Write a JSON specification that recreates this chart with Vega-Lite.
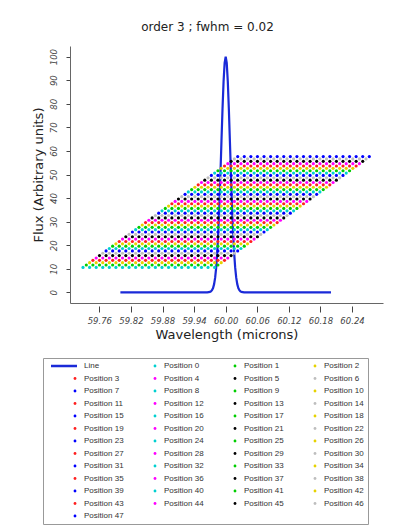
{
"$schema":"https://vega.github.io/schema/vega-lite/v6.json",
"width":313,"height":257,
"autosize":{"type":"none"},
"padding":{"left":70,"top":46,"right":22,"bottom":226},
"background":"white",
"title":{"text":"order 3 ; fwhm =  0.02","font":"DejaVu Sans","fontSize":12,"fontWeight":"normal","color":"#222","dx":-19,"offset":12},
"config":{"view":{"stroke":null},"axis":{"grid":false,"labelOverlap":false,"labelSeparation":0}},
"datasets":{
"line":[{"s":-1,"w":59.8,"f":0},{"s":-1,"w":59.96,"f":0},{"s":-1,"w":59.965,"f":0.02},{"s":-1,"w":59.97,"f":0.2},{"s":-1,"w":59.972,"f":0.44},{"s":-1,"w":59.974,"f":0.92},{"s":-1,"w":59.976,"f":1.85},{"s":-1,"w":59.978,"f":3.49},{"s":-1,"w":59.98,"f":6.25},{"s":-1,"w":59.982,"f":10.6},{"s":-1,"w":59.984,"f":17},{"s":-1,"w":59.986,"f":25.7},{"s":-1,"w":59.988,"f":36.9},{"s":-1,"w":59.99,"f":50},{"s":-1,"w":59.992,"f":64.2},{"s":-1,"w":59.994,"f":77.9},{"s":-1,"w":59.996,"f":89.5},{"s":-1,"w":59.998,"f":97.3},{"s":-1,"w":60,"f":100},{"s":-1,"w":60.002,"f":97.3},{"s":-1,"w":60.004,"f":89.5},{"s":-1,"w":60.006,"f":77.9},{"s":-1,"w":60.008,"f":64.2},{"s":-1,"w":60.01,"f":50},{"s":-1,"w":60.012,"f":36.9},{"s":-1,"w":60.014,"f":25.7},{"s":-1,"w":60.016,"f":17},{"s":-1,"w":60.018,"f":10.6},{"s":-1,"w":60.02,"f":6.25},{"s":-1,"w":60.022,"f":3.49},{"s":-1,"w":60.024,"f":1.85},{"s":-1,"w":60.026,"f":0.92},{"s":-1,"w":60.028,"f":0.44},{"s":-1,"w":60.03,"f":0.2},{"s":-1,"w":60.035,"f":0.02},{"s":-1,"w":60.04,"f":0},{"s":-1,"w":60.2,"f":0}],
"pts":[
{"s":0,"w":59.729,"f":10.6},{"s":0,"w":59.7415,"f":10.6},{"s":0,"w":59.754,"f":10.6},{"s":0,"w":59.7665,"f":10.6},{"s":0,"w":59.779,"f":10.6},{"s":0,"w":59.7915,"f":10.6},{"s":0,"w":59.804,"f":10.6},{"s":0,"w":59.8165,"f":10.6},{"s":0,"w":59.829,"f":10.6},{"s":0,"w":59.8415,"f":10.6},{"s":0,"w":59.854,"f":10.6},{"s":0,"w":59.8665,"f":10.6},{"s":0,"w":59.879,"f":10.6},{"s":0,"w":59.8915,"f":10.6},{"s":0,"w":59.904,"f":10.6},{"s":0,"w":59.9165,"f":10.6},{"s":0,"w":59.929,"f":10.6},{"s":0,"w":59.9415,"f":10.6},{"s":0,"w":59.954,"f":10.6},{"s":0,"w":59.9665,"f":10.6},{"s":0,"w":59.979,"f":10.6},
{"s":1,"w":59.7353,"f":11.6},{"s":1,"w":59.7478,"f":11.6},{"s":1,"w":59.7603,"f":11.6},{"s":1,"w":59.7728,"f":11.6},{"s":1,"w":59.7853,"f":11.6},{"s":1,"w":59.7978,"f":11.6},{"s":1,"w":59.8103,"f":11.6},{"s":1,"w":59.8228,"f":11.6},{"s":1,"w":59.8353,"f":11.6},{"s":1,"w":59.8478,"f":11.6},{"s":1,"w":59.8603,"f":11.6},{"s":1,"w":59.8728,"f":11.6},{"s":1,"w":59.8853,"f":11.6},{"s":1,"w":59.8978,"f":11.6},{"s":1,"w":59.9103,"f":11.6},{"s":1,"w":59.9228,"f":11.6},{"s":1,"w":59.9353,"f":11.6},{"s":1,"w":59.9478,"f":11.6},{"s":1,"w":59.9603,"f":11.6},{"s":1,"w":59.9728,"f":11.6},{"s":1,"w":59.9853,"f":11.6},
{"s":2,"w":59.7415,"f":12.6},{"s":2,"w":59.754,"f":12.6},{"s":2,"w":59.7665,"f":12.6},{"s":2,"w":59.779,"f":12.6},{"s":2,"w":59.7915,"f":12.6},{"s":2,"w":59.804,"f":12.6},{"s":2,"w":59.8165,"f":12.6},{"s":2,"w":59.829,"f":12.6},{"s":2,"w":59.8415,"f":12.6},{"s":2,"w":59.854,"f":12.6},{"s":2,"w":59.8665,"f":12.6},{"s":2,"w":59.879,"f":12.6},{"s":2,"w":59.8915,"f":12.6},{"s":2,"w":59.904,"f":12.6},{"s":2,"w":59.9165,"f":12.6},{"s":2,"w":59.929,"f":12.6},{"s":2,"w":59.9415,"f":12.6},{"s":2,"w":59.954,"f":12.6},{"s":2,"w":59.9665,"f":12.6},{"s":2,"w":59.979,"f":12.6},{"s":2,"w":59.9915,"f":12.6},
{"s":3,"w":59.7478,"f":13.6},{"s":3,"w":59.7603,"f":13.6},{"s":3,"w":59.7728,"f":13.6},{"s":3,"w":59.7853,"f":13.6},{"s":3,"w":59.7978,"f":13.6},{"s":3,"w":59.8103,"f":13.6},{"s":3,"w":59.8228,"f":13.6},{"s":3,"w":59.8353,"f":13.6},{"s":3,"w":59.8478,"f":13.6},{"s":3,"w":59.8603,"f":13.6},{"s":3,"w":59.8728,"f":13.6},{"s":3,"w":59.8853,"f":13.6},{"s":3,"w":59.8978,"f":13.6},{"s":3,"w":59.9103,"f":13.6},{"s":3,"w":59.9228,"f":13.6},{"s":3,"w":59.9353,"f":13.6},{"s":3,"w":59.9478,"f":13.6},{"s":3,"w":59.9603,"f":13.6},{"s":3,"w":59.9728,"f":13.6},{"s":3,"w":59.9853,"f":13.6},{"s":3,"w":59.9978,"f":13.6},
{"s":4,"w":59.754,"f":14.6},{"s":4,"w":59.7665,"f":14.6},{"s":4,"w":59.779,"f":14.6},{"s":4,"w":59.7915,"f":14.6},{"s":4,"w":59.804,"f":14.6},{"s":4,"w":59.8165,"f":14.6},{"s":4,"w":59.829,"f":14.6},{"s":4,"w":59.8415,"f":14.6},{"s":4,"w":59.854,"f":14.6},{"s":4,"w":59.8665,"f":14.6},{"s":4,"w":59.879,"f":14.6},{"s":4,"w":59.8915,"f":14.6},{"s":4,"w":59.904,"f":14.6},{"s":4,"w":59.9165,"f":14.6},{"s":4,"w":59.929,"f":14.6},{"s":4,"w":59.9415,"f":14.6},{"s":4,"w":59.954,"f":14.6},{"s":4,"w":59.9665,"f":14.6},{"s":4,"w":59.979,"f":14.6},{"s":4,"w":59.9915,"f":14.6},{"s":4,"w":60.004,"f":14.6},
{"s":5,"w":59.7603,"f":15.6},{"s":5,"w":59.7728,"f":15.6},{"s":5,"w":59.7853,"f":15.6},{"s":5,"w":59.7978,"f":15.6},{"s":5,"w":59.8103,"f":15.6},{"s":5,"w":59.8228,"f":15.6},{"s":5,"w":59.8353,"f":15.6},{"s":5,"w":59.8478,"f":15.6},{"s":5,"w":59.8603,"f":15.6},{"s":5,"w":59.8728,"f":15.6},{"s":5,"w":59.8853,"f":15.6},{"s":5,"w":59.8978,"f":15.6},{"s":5,"w":59.9103,"f":15.6},{"s":5,"w":59.9228,"f":15.6},{"s":5,"w":59.9353,"f":15.6},{"s":5,"w":59.9478,"f":15.6},{"s":5,"w":59.9603,"f":15.6},{"s":5,"w":59.9728,"f":15.6},{"s":5,"w":59.9853,"f":15.6},{"s":5,"w":59.9978,"f":15.6},{"s":5,"w":60.0103,"f":15.6},
{"s":6,"w":59.7665,"f":16.6},{"s":6,"w":59.779,"f":16.6},{"s":6,"w":59.7915,"f":16.6},{"s":6,"w":59.804,"f":16.6},{"s":6,"w":59.8165,"f":16.6},{"s":6,"w":59.829,"f":16.6},{"s":6,"w":59.8415,"f":16.6},{"s":6,"w":59.854,"f":16.6},{"s":6,"w":59.8665,"f":16.6},{"s":6,"w":59.879,"f":16.6},{"s":6,"w":59.8915,"f":16.6},{"s":6,"w":59.904,"f":16.6},{"s":6,"w":59.9165,"f":16.6},{"s":6,"w":59.929,"f":16.6},{"s":6,"w":59.9415,"f":16.6},{"s":6,"w":59.954,"f":16.6},{"s":6,"w":59.9665,"f":16.6},{"s":6,"w":59.979,"f":16.6},{"s":6,"w":59.9915,"f":16.6},{"s":6,"w":60.004,"f":16.6},{"s":6,"w":60.0165,"f":16.6},
{"s":7,"w":59.7728,"f":17.6},{"s":7,"w":59.7853,"f":17.6},{"s":7,"w":59.7978,"f":17.6},{"s":7,"w":59.8103,"f":17.6},{"s":7,"w":59.8228,"f":17.6},{"s":7,"w":59.8353,"f":17.6},{"s":7,"w":59.8478,"f":17.6},{"s":7,"w":59.8603,"f":17.6},{"s":7,"w":59.8728,"f":17.6},{"s":7,"w":59.8853,"f":17.6},{"s":7,"w":59.8978,"f":17.6},{"s":7,"w":59.9103,"f":17.6},{"s":7,"w":59.9228,"f":17.6},{"s":7,"w":59.9353,"f":17.6},{"s":7,"w":59.9478,"f":17.6},{"s":7,"w":59.9603,"f":17.6},{"s":7,"w":59.9728,"f":17.6},{"s":7,"w":59.9853,"f":17.6},{"s":7,"w":59.9978,"f":17.6},{"s":7,"w":60.0103,"f":17.6},{"s":7,"w":60.0228,"f":17.6},
{"s":8,"w":59.779,"f":18.6},{"s":8,"w":59.7915,"f":18.6},{"s":8,"w":59.804,"f":18.6},{"s":8,"w":59.8165,"f":18.6},{"s":8,"w":59.829,"f":18.6},{"s":8,"w":59.8415,"f":18.6},{"s":8,"w":59.854,"f":18.6},{"s":8,"w":59.8665,"f":18.6},{"s":8,"w":59.879,"f":18.6},{"s":8,"w":59.8915,"f":18.6},{"s":8,"w":59.904,"f":18.6},{"s":8,"w":59.9165,"f":18.6},{"s":8,"w":59.929,"f":18.6},{"s":8,"w":59.9415,"f":18.6},{"s":8,"w":59.954,"f":18.6},{"s":8,"w":59.9665,"f":18.6},{"s":8,"w":59.979,"f":18.6},{"s":8,"w":59.9915,"f":18.6},{"s":8,"w":60.004,"f":18.6},{"s":8,"w":60.0165,"f":18.6},{"s":8,"w":60.029,"f":18.6},
{"s":9,"w":59.7853,"f":19.6},{"s":9,"w":59.7978,"f":19.6},{"s":9,"w":59.8103,"f":19.6},{"s":9,"w":59.8228,"f":19.6},{"s":9,"w":59.8353,"f":19.6},{"s":9,"w":59.8478,"f":19.6},{"s":9,"w":59.8603,"f":19.6},{"s":9,"w":59.8728,"f":19.6},{"s":9,"w":59.8853,"f":19.6},{"s":9,"w":59.8978,"f":19.6},{"s":9,"w":59.9103,"f":19.6},{"s":9,"w":59.9228,"f":19.6},{"s":9,"w":59.9353,"f":19.6},{"s":9,"w":59.9478,"f":19.6},{"s":9,"w":59.9603,"f":19.6},{"s":9,"w":59.9728,"f":19.6},{"s":9,"w":59.9853,"f":19.6},{"s":9,"w":59.9978,"f":19.6},{"s":9,"w":60.0103,"f":19.6},{"s":9,"w":60.0228,"f":19.6},{"s":9,"w":60.0353,"f":19.6},
{"s":10,"w":59.7915,"f":20.6},{"s":10,"w":59.804,"f":20.6},{"s":10,"w":59.8165,"f":20.6},{"s":10,"w":59.829,"f":20.6},{"s":10,"w":59.8415,"f":20.6},{"s":10,"w":59.854,"f":20.6},{"s":10,"w":59.8665,"f":20.6},{"s":10,"w":59.879,"f":20.6},{"s":10,"w":59.8915,"f":20.6},{"s":10,"w":59.904,"f":20.6},{"s":10,"w":59.9165,"f":20.6},{"s":10,"w":59.929,"f":20.6},{"s":10,"w":59.9415,"f":20.6},{"s":10,"w":59.954,"f":20.6},{"s":10,"w":59.9665,"f":20.6},{"s":10,"w":59.979,"f":20.6},{"s":10,"w":59.9915,"f":20.6},{"s":10,"w":60.004,"f":20.6},{"s":10,"w":60.0165,"f":20.6},{"s":10,"w":60.029,"f":20.6},{"s":10,"w":60.0415,"f":20.6},
{"s":11,"w":59.7978,"f":21.6},{"s":11,"w":59.8103,"f":21.6},{"s":11,"w":59.8228,"f":21.6},{"s":11,"w":59.8353,"f":21.6},{"s":11,"w":59.8478,"f":21.6},{"s":11,"w":59.8603,"f":21.6},{"s":11,"w":59.8728,"f":21.6},{"s":11,"w":59.8853,"f":21.6},{"s":11,"w":59.8978,"f":21.6},{"s":11,"w":59.9103,"f":21.6},{"s":11,"w":59.9228,"f":21.6},{"s":11,"w":59.9353,"f":21.6},{"s":11,"w":59.9478,"f":21.6},{"s":11,"w":59.9603,"f":21.6},{"s":11,"w":59.9728,"f":21.6},{"s":11,"w":59.9853,"f":21.6},{"s":11,"w":59.9978,"f":21.6},{"s":11,"w":60.0103,"f":21.6},{"s":11,"w":60.0228,"f":21.6},{"s":11,"w":60.0353,"f":21.6},{"s":11,"w":60.0478,"f":21.6},
{"s":12,"w":59.804,"f":22.6},{"s":12,"w":59.8165,"f":22.6},{"s":12,"w":59.829,"f":22.6},{"s":12,"w":59.8415,"f":22.6},{"s":12,"w":59.854,"f":22.6},{"s":12,"w":59.8665,"f":22.6},{"s":12,"w":59.879,"f":22.6},{"s":12,"w":59.8915,"f":22.6},{"s":12,"w":59.904,"f":22.6},{"s":12,"w":59.9165,"f":22.6},{"s":12,"w":59.929,"f":22.6},{"s":12,"w":59.9415,"f":22.6},{"s":12,"w":59.954,"f":22.6},{"s":12,"w":59.9665,"f":22.6},{"s":12,"w":59.979,"f":22.6},{"s":12,"w":59.9915,"f":22.6},{"s":12,"w":60.004,"f":22.6},{"s":12,"w":60.0165,"f":22.6},{"s":12,"w":60.029,"f":22.6},{"s":12,"w":60.0415,"f":22.6},{"s":12,"w":60.054,"f":22.6},
{"s":13,"w":59.8103,"f":23.6},{"s":13,"w":59.8228,"f":23.6},{"s":13,"w":59.8353,"f":23.6},{"s":13,"w":59.8478,"f":23.6},{"s":13,"w":59.8603,"f":23.6},{"s":13,"w":59.8728,"f":23.6},{"s":13,"w":59.8853,"f":23.6},{"s":13,"w":59.8978,"f":23.6},{"s":13,"w":59.9103,"f":23.6},{"s":13,"w":59.9228,"f":23.6},{"s":13,"w":59.9353,"f":23.6},{"s":13,"w":59.9478,"f":23.6},{"s":13,"w":59.9603,"f":23.6},{"s":13,"w":59.9728,"f":23.6},{"s":13,"w":59.9853,"f":23.6},{"s":13,"w":59.9978,"f":23.6},{"s":13,"w":60.0103,"f":23.6},{"s":13,"w":60.0228,"f":23.6},{"s":13,"w":60.0353,"f":23.6},{"s":13,"w":60.0478,"f":23.6},{"s":13,"w":60.0603,"f":23.6},
{"s":14,"w":59.8165,"f":24.6},{"s":14,"w":59.829,"f":24.6},{"s":14,"w":59.8415,"f":24.6},{"s":14,"w":59.854,"f":24.6},{"s":14,"w":59.8665,"f":24.6},{"s":14,"w":59.879,"f":24.6},{"s":14,"w":59.8915,"f":24.6},{"s":14,"w":59.904,"f":24.6},{"s":14,"w":59.9165,"f":24.6},{"s":14,"w":59.929,"f":24.6},{"s":14,"w":59.9415,"f":24.6},{"s":14,"w":59.954,"f":24.6},{"s":14,"w":59.9665,"f":24.6},{"s":14,"w":59.979,"f":24.6},{"s":14,"w":59.9915,"f":24.6},{"s":14,"w":60.004,"f":24.6},{"s":14,"w":60.0165,"f":24.6},{"s":14,"w":60.029,"f":24.6},{"s":14,"w":60.0415,"f":24.6},{"s":14,"w":60.054,"f":24.6},{"s":14,"w":60.0665,"f":24.6},
{"s":15,"w":59.8228,"f":25.6},{"s":15,"w":59.8353,"f":25.6},{"s":15,"w":59.8478,"f":25.6},{"s":15,"w":59.8603,"f":25.6},{"s":15,"w":59.8728,"f":25.6},{"s":15,"w":59.8853,"f":25.6},{"s":15,"w":59.8978,"f":25.6},{"s":15,"w":59.9103,"f":25.6},{"s":15,"w":59.9228,"f":25.6},{"s":15,"w":59.9353,"f":25.6},{"s":15,"w":59.9478,"f":25.6},{"s":15,"w":59.9603,"f":25.6},{"s":15,"w":59.9728,"f":25.6},{"s":15,"w":59.9853,"f":25.6},{"s":15,"w":59.9978,"f":25.6},{"s":15,"w":60.0103,"f":25.6},{"s":15,"w":60.0228,"f":25.6},{"s":15,"w":60.0353,"f":25.6},{"s":15,"w":60.0478,"f":25.6},{"s":15,"w":60.0603,"f":25.6},{"s":15,"w":60.0728,"f":25.6},
{"s":16,"w":59.829,"f":26.6},{"s":16,"w":59.8415,"f":26.6},{"s":16,"w":59.854,"f":26.6},{"s":16,"w":59.8665,"f":26.6},{"s":16,"w":59.879,"f":26.6},{"s":16,"w":59.8915,"f":26.6},{"s":16,"w":59.904,"f":26.6},{"s":16,"w":59.9165,"f":26.6},{"s":16,"w":59.929,"f":26.6},{"s":16,"w":59.9415,"f":26.6},{"s":16,"w":59.954,"f":26.6},{"s":16,"w":59.9665,"f":26.6},{"s":16,"w":59.979,"f":26.6},{"s":16,"w":59.9915,"f":26.6},{"s":16,"w":60.004,"f":26.6},{"s":16,"w":60.0165,"f":26.6},{"s":16,"w":60.029,"f":26.6},{"s":16,"w":60.0415,"f":26.6},{"s":16,"w":60.054,"f":26.6},{"s":16,"w":60.0665,"f":26.6},{"s":16,"w":60.079,"f":26.6},
{"s":17,"w":59.8353,"f":27.6},{"s":17,"w":59.8478,"f":27.6},{"s":17,"w":59.8603,"f":27.6},{"s":17,"w":59.8728,"f":27.6},{"s":17,"w":59.8853,"f":27.6},{"s":17,"w":59.8978,"f":27.6},{"s":17,"w":59.9103,"f":27.6},{"s":17,"w":59.9228,"f":27.6},{"s":17,"w":59.9353,"f":27.6},{"s":17,"w":59.9478,"f":27.6},{"s":17,"w":59.9603,"f":27.6},{"s":17,"w":59.9728,"f":27.6},{"s":17,"w":59.9853,"f":27.6},{"s":17,"w":59.9978,"f":27.6},{"s":17,"w":60.0103,"f":27.6},{"s":17,"w":60.0228,"f":27.6},{"s":17,"w":60.0353,"f":27.6},{"s":17,"w":60.0478,"f":27.6},{"s":17,"w":60.0603,"f":27.6},{"s":17,"w":60.0728,"f":27.6},{"s":17,"w":60.0853,"f":27.6},
{"s":18,"w":59.8415,"f":28.6},{"s":18,"w":59.854,"f":28.6},{"s":18,"w":59.8665,"f":28.6},{"s":18,"w":59.879,"f":28.6},{"s":18,"w":59.8915,"f":28.6},{"s":18,"w":59.904,"f":28.6},{"s":18,"w":59.9165,"f":28.6},{"s":18,"w":59.929,"f":28.6},{"s":18,"w":59.9415,"f":28.6},{"s":18,"w":59.954,"f":28.6},{"s":18,"w":59.9665,"f":28.6},{"s":18,"w":59.979,"f":28.6},{"s":18,"w":59.9915,"f":28.6},{"s":18,"w":60.004,"f":28.6},{"s":18,"w":60.0165,"f":28.6},{"s":18,"w":60.029,"f":28.6},{"s":18,"w":60.0415,"f":28.6},{"s":18,"w":60.054,"f":28.6},{"s":18,"w":60.0665,"f":28.6},{"s":18,"w":60.079,"f":28.6},{"s":18,"w":60.0915,"f":28.6},
{"s":19,"w":59.8478,"f":29.6},{"s":19,"w":59.8603,"f":29.6},{"s":19,"w":59.8728,"f":29.6},{"s":19,"w":59.8853,"f":29.6},{"s":19,"w":59.8978,"f":29.6},{"s":19,"w":59.9103,"f":29.6},{"s":19,"w":59.9228,"f":29.6},{"s":19,"w":59.9353,"f":29.6},{"s":19,"w":59.9478,"f":29.6},{"s":19,"w":59.9603,"f":29.6},{"s":19,"w":59.9728,"f":29.6},{"s":19,"w":59.9853,"f":29.6},{"s":19,"w":59.9978,"f":29.6},{"s":19,"w":60.0103,"f":29.6},{"s":19,"w":60.0228,"f":29.6},{"s":19,"w":60.0353,"f":29.6},{"s":19,"w":60.0478,"f":29.6},{"s":19,"w":60.0603,"f":29.6},{"s":19,"w":60.0728,"f":29.6},{"s":19,"w":60.0853,"f":29.6},{"s":19,"w":60.0978,"f":29.6},
{"s":20,"w":59.854,"f":30.6},{"s":20,"w":59.8665,"f":30.6},{"s":20,"w":59.879,"f":30.6},{"s":20,"w":59.8915,"f":30.6},{"s":20,"w":59.904,"f":30.6},{"s":20,"w":59.9165,"f":30.6},{"s":20,"w":59.929,"f":30.6},{"s":20,"w":59.9415,"f":30.6},{"s":20,"w":59.954,"f":30.6},{"s":20,"w":59.9665,"f":30.6},{"s":20,"w":59.979,"f":30.6},{"s":20,"w":59.9915,"f":30.6},{"s":20,"w":60.004,"f":30.6},{"s":20,"w":60.0165,"f":30.6},{"s":20,"w":60.029,"f":30.6},{"s":20,"w":60.0415,"f":30.6},{"s":20,"w":60.054,"f":30.6},{"s":20,"w":60.0665,"f":30.6},{"s":20,"w":60.079,"f":30.6},{"s":20,"w":60.0915,"f":30.6},{"s":20,"w":60.104,"f":30.6},
{"s":21,"w":59.8603,"f":31.6},{"s":21,"w":59.8728,"f":31.6},{"s":21,"w":59.8853,"f":31.6},{"s":21,"w":59.8978,"f":31.6},{"s":21,"w":59.9103,"f":31.6},{"s":21,"w":59.9228,"f":31.6},{"s":21,"w":59.9353,"f":31.6},{"s":21,"w":59.9478,"f":31.6},{"s":21,"w":59.9603,"f":31.6},{"s":21,"w":59.9728,"f":31.6},{"s":21,"w":59.9853,"f":31.6},{"s":21,"w":59.9978,"f":31.6},{"s":21,"w":60.0103,"f":31.6},{"s":21,"w":60.0228,"f":31.6},{"s":21,"w":60.0353,"f":31.6},{"s":21,"w":60.0478,"f":31.6},{"s":21,"w":60.0603,"f":31.6},{"s":21,"w":60.0728,"f":31.6},{"s":21,"w":60.0853,"f":31.6},{"s":21,"w":60.0978,"f":31.6},{"s":21,"w":60.1103,"f":31.6},
{"s":22,"w":59.8665,"f":32.6},{"s":22,"w":59.879,"f":32.6},{"s":22,"w":59.8915,"f":32.6},{"s":22,"w":59.904,"f":32.6},{"s":22,"w":59.9165,"f":32.6},{"s":22,"w":59.929,"f":32.6},{"s":22,"w":59.9415,"f":32.6},{"s":22,"w":59.954,"f":32.6},{"s":22,"w":59.9665,"f":32.6},{"s":22,"w":59.979,"f":32.6},{"s":22,"w":59.9915,"f":32.6},{"s":22,"w":60.004,"f":32.6},{"s":22,"w":60.0165,"f":32.6},{"s":22,"w":60.029,"f":32.6},{"s":22,"w":60.0415,"f":32.6},{"s":22,"w":60.054,"f":32.6},{"s":22,"w":60.0665,"f":32.6},{"s":22,"w":60.079,"f":32.6},{"s":22,"w":60.0915,"f":32.6},{"s":22,"w":60.104,"f":32.6},{"s":22,"w":60.1165,"f":32.6},
{"s":23,"w":59.8728,"f":33.6},{"s":23,"w":59.8853,"f":33.6},{"s":23,"w":59.8978,"f":33.6},{"s":23,"w":59.9103,"f":33.6},{"s":23,"w":59.9228,"f":33.6},{"s":23,"w":59.9353,"f":33.6},{"s":23,"w":59.9478,"f":33.6},{"s":23,"w":59.9603,"f":33.6},{"s":23,"w":59.9728,"f":33.6},{"s":23,"w":59.9853,"f":33.6},{"s":23,"w":59.9978,"f":33.6},{"s":23,"w":60.0103,"f":33.6},{"s":23,"w":60.0228,"f":33.6},{"s":23,"w":60.0353,"f":33.6},{"s":23,"w":60.0478,"f":33.6},{"s":23,"w":60.0603,"f":33.6},{"s":23,"w":60.0728,"f":33.6},{"s":23,"w":60.0853,"f":33.6},{"s":23,"w":60.0978,"f":33.6},{"s":23,"w":60.1103,"f":33.6},{"s":23,"w":60.1228,"f":33.6},
{"s":24,"w":59.879,"f":34.6},{"s":24,"w":59.8915,"f":34.6},{"s":24,"w":59.904,"f":34.6},{"s":24,"w":59.9165,"f":34.6},{"s":24,"w":59.929,"f":34.6},{"s":24,"w":59.9415,"f":34.6},{"s":24,"w":59.954,"f":34.6},{"s":24,"w":59.9665,"f":34.6},{"s":24,"w":59.979,"f":34.6},{"s":24,"w":59.9915,"f":34.6},{"s":24,"w":60.004,"f":34.6},{"s":24,"w":60.0165,"f":34.6},{"s":24,"w":60.029,"f":34.6},{"s":24,"w":60.0415,"f":34.6},{"s":24,"w":60.054,"f":34.6},{"s":24,"w":60.0665,"f":34.6},{"s":24,"w":60.079,"f":34.6},{"s":24,"w":60.0915,"f":34.6},{"s":24,"w":60.104,"f":34.6},{"s":24,"w":60.1165,"f":34.6},{"s":24,"w":60.129,"f":34.6},
{"s":25,"w":59.8853,"f":35.6},{"s":25,"w":59.8978,"f":35.6},{"s":25,"w":59.9103,"f":35.6},{"s":25,"w":59.9228,"f":35.6},{"s":25,"w":59.9353,"f":35.6},{"s":25,"w":59.9478,"f":35.6},{"s":25,"w":59.9603,"f":35.6},{"s":25,"w":59.9728,"f":35.6},{"s":25,"w":59.9853,"f":35.6},{"s":25,"w":59.9978,"f":35.6},{"s":25,"w":60.0103,"f":35.6},{"s":25,"w":60.0228,"f":35.6},{"s":25,"w":60.0353,"f":35.6},{"s":25,"w":60.0478,"f":35.6},{"s":25,"w":60.0603,"f":35.6},{"s":25,"w":60.0728,"f":35.6},{"s":25,"w":60.0853,"f":35.6},{"s":25,"w":60.0978,"f":35.6},{"s":25,"w":60.1103,"f":35.6},{"s":25,"w":60.1228,"f":35.6},{"s":25,"w":60.1353,"f":35.6},
{"s":26,"w":59.8915,"f":36.6},{"s":26,"w":59.904,"f":36.6},{"s":26,"w":59.9165,"f":36.6},{"s":26,"w":59.929,"f":36.6},{"s":26,"w":59.9415,"f":36.6},{"s":26,"w":59.954,"f":36.6},{"s":26,"w":59.9665,"f":36.6},{"s":26,"w":59.979,"f":36.6},{"s":26,"w":59.9915,"f":36.6},{"s":26,"w":60.004,"f":36.6},{"s":26,"w":60.0165,"f":36.6},{"s":26,"w":60.029,"f":36.6},{"s":26,"w":60.0415,"f":36.6},{"s":26,"w":60.054,"f":36.6},{"s":26,"w":60.0665,"f":36.6},{"s":26,"w":60.079,"f":36.6},{"s":26,"w":60.0915,"f":36.6},{"s":26,"w":60.104,"f":36.6},{"s":26,"w":60.1165,"f":36.6},{"s":26,"w":60.129,"f":36.6},{"s":26,"w":60.1415,"f":36.6},
{"s":27,"w":59.8978,"f":37.6},{"s":27,"w":59.9103,"f":37.6},{"s":27,"w":59.9228,"f":37.6},{"s":27,"w":59.9353,"f":37.6},{"s":27,"w":59.9478,"f":37.6},{"s":27,"w":59.9603,"f":37.6},{"s":27,"w":59.9728,"f":37.6},{"s":27,"w":59.9853,"f":37.6},{"s":27,"w":59.9978,"f":37.6},{"s":27,"w":60.0103,"f":37.6},{"s":27,"w":60.0228,"f":37.6},{"s":27,"w":60.0353,"f":37.6},{"s":27,"w":60.0478,"f":37.6},{"s":27,"w":60.0603,"f":37.6},{"s":27,"w":60.0728,"f":37.6},{"s":27,"w":60.0853,"f":37.6},{"s":27,"w":60.0978,"f":37.6},{"s":27,"w":60.1103,"f":37.6},{"s":27,"w":60.1228,"f":37.6},{"s":27,"w":60.1353,"f":37.6},{"s":27,"w":60.1478,"f":37.6},
{"s":28,"w":59.904,"f":38.6},{"s":28,"w":59.9165,"f":38.6},{"s":28,"w":59.929,"f":38.6},{"s":28,"w":59.9415,"f":38.6},{"s":28,"w":59.954,"f":38.6},{"s":28,"w":59.9665,"f":38.6},{"s":28,"w":59.979,"f":38.6},{"s":28,"w":59.9915,"f":38.6},{"s":28,"w":60.004,"f":38.6},{"s":28,"w":60.0165,"f":38.6},{"s":28,"w":60.029,"f":38.6},{"s":28,"w":60.0415,"f":38.6},{"s":28,"w":60.054,"f":38.6},{"s":28,"w":60.0665,"f":38.6},{"s":28,"w":60.079,"f":38.6},{"s":28,"w":60.0915,"f":38.6},{"s":28,"w":60.104,"f":38.6},{"s":28,"w":60.1165,"f":38.6},{"s":28,"w":60.129,"f":38.6},{"s":28,"w":60.1415,"f":38.6},{"s":28,"w":60.154,"f":38.6},
{"s":29,"w":59.9103,"f":39.6},{"s":29,"w":59.9228,"f":39.6},{"s":29,"w":59.9353,"f":39.6},{"s":29,"w":59.9478,"f":39.6},{"s":29,"w":59.9603,"f":39.6},{"s":29,"w":59.9728,"f":39.6},{"s":29,"w":59.9853,"f":39.6},{"s":29,"w":59.9978,"f":39.6},{"s":29,"w":60.0103,"f":39.6},{"s":29,"w":60.0228,"f":39.6},{"s":29,"w":60.0353,"f":39.6},{"s":29,"w":60.0478,"f":39.6},{"s":29,"w":60.0603,"f":39.6},{"s":29,"w":60.0728,"f":39.6},{"s":29,"w":60.0853,"f":39.6},{"s":29,"w":60.0978,"f":39.6},{"s":29,"w":60.1103,"f":39.6},{"s":29,"w":60.1228,"f":39.6},{"s":29,"w":60.1353,"f":39.6},{"s":29,"w":60.1478,"f":39.6},{"s":29,"w":60.1603,"f":39.6},
{"s":30,"w":59.9165,"f":40.6},{"s":30,"w":59.929,"f":40.6},{"s":30,"w":59.9415,"f":40.6},{"s":30,"w":59.954,"f":40.6},{"s":30,"w":59.9665,"f":40.6},{"s":30,"w":59.979,"f":40.6},{"s":30,"w":59.9915,"f":40.6},{"s":30,"w":60.004,"f":40.6},{"s":30,"w":60.0165,"f":40.6},{"s":30,"w":60.029,"f":40.6},{"s":30,"w":60.0415,"f":40.6},{"s":30,"w":60.054,"f":40.6},{"s":30,"w":60.0665,"f":40.6},{"s":30,"w":60.079,"f":40.6},{"s":30,"w":60.0915,"f":40.6},{"s":30,"w":60.104,"f":40.6},{"s":30,"w":60.1165,"f":40.6},{"s":30,"w":60.129,"f":40.6},{"s":30,"w":60.1415,"f":40.6},{"s":30,"w":60.154,"f":40.6},{"s":30,"w":60.1665,"f":40.6},
{"s":31,"w":59.9228,"f":41.6},{"s":31,"w":59.9353,"f":41.6},{"s":31,"w":59.9478,"f":41.6},{"s":31,"w":59.9603,"f":41.6},{"s":31,"w":59.9728,"f":41.6},{"s":31,"w":59.9853,"f":41.6},{"s":31,"w":59.9978,"f":41.6},{"s":31,"w":60.0103,"f":41.6},{"s":31,"w":60.0228,"f":41.6},{"s":31,"w":60.0353,"f":41.6},{"s":31,"w":60.0478,"f":41.6},{"s":31,"w":60.0603,"f":41.6},{"s":31,"w":60.0728,"f":41.6},{"s":31,"w":60.0853,"f":41.6},{"s":31,"w":60.0978,"f":41.6},{"s":31,"w":60.1103,"f":41.6},{"s":31,"w":60.1228,"f":41.6},{"s":31,"w":60.1353,"f":41.6},{"s":31,"w":60.1478,"f":41.6},{"s":31,"w":60.1603,"f":41.6},{"s":31,"w":60.1728,"f":41.6},
{"s":32,"w":59.929,"f":42.6},{"s":32,"w":59.9415,"f":42.6},{"s":32,"w":59.954,"f":42.6},{"s":32,"w":59.9665,"f":42.6},{"s":32,"w":59.979,"f":42.6},{"s":32,"w":59.9915,"f":42.6},{"s":32,"w":60.004,"f":42.6},{"s":32,"w":60.0165,"f":42.6},{"s":32,"w":60.029,"f":42.6},{"s":32,"w":60.0415,"f":42.6},{"s":32,"w":60.054,"f":42.6},{"s":32,"w":60.0665,"f":42.6},{"s":32,"w":60.079,"f":42.6},{"s":32,"w":60.0915,"f":42.6},{"s":32,"w":60.104,"f":42.6},{"s":32,"w":60.1165,"f":42.6},{"s":32,"w":60.129,"f":42.6},{"s":32,"w":60.1415,"f":42.6},{"s":32,"w":60.154,"f":42.6},{"s":32,"w":60.1665,"f":42.6},{"s":32,"w":60.179,"f":42.6},
{"s":33,"w":59.9353,"f":43.6},{"s":33,"w":59.9478,"f":43.6},{"s":33,"w":59.9603,"f":43.6},{"s":33,"w":59.9728,"f":43.6},{"s":33,"w":59.9853,"f":43.6},{"s":33,"w":59.9978,"f":43.6},{"s":33,"w":60.0103,"f":43.6},{"s":33,"w":60.0228,"f":43.6},{"s":33,"w":60.0353,"f":43.6},{"s":33,"w":60.0478,"f":43.6},{"s":33,"w":60.0603,"f":43.6},{"s":33,"w":60.0728,"f":43.6},{"s":33,"w":60.0853,"f":43.6},{"s":33,"w":60.0978,"f":43.6},{"s":33,"w":60.1103,"f":43.6},{"s":33,"w":60.1228,"f":43.6},{"s":33,"w":60.1353,"f":43.6},{"s":33,"w":60.1478,"f":43.6},{"s":33,"w":60.1603,"f":43.6},{"s":33,"w":60.1728,"f":43.6},{"s":33,"w":60.1853,"f":43.6},
{"s":34,"w":59.9415,"f":44.6},{"s":34,"w":59.954,"f":44.6},{"s":34,"w":59.9665,"f":44.6},{"s":34,"w":59.979,"f":44.6},{"s":34,"w":59.9915,"f":44.6},{"s":34,"w":60.004,"f":44.6},{"s":34,"w":60.0165,"f":44.6},{"s":34,"w":60.029,"f":44.6},{"s":34,"w":60.0415,"f":44.6},{"s":34,"w":60.054,"f":44.6},{"s":34,"w":60.0665,"f":44.6},{"s":34,"w":60.079,"f":44.6},{"s":34,"w":60.0915,"f":44.6},{"s":34,"w":60.104,"f":44.6},{"s":34,"w":60.1165,"f":44.6},{"s":34,"w":60.129,"f":44.6},{"s":34,"w":60.1415,"f":44.6},{"s":34,"w":60.154,"f":44.6},{"s":34,"w":60.1665,"f":44.6},{"s":34,"w":60.179,"f":44.6},{"s":34,"w":60.1915,"f":44.6},
{"s":35,"w":59.9478,"f":45.6},{"s":35,"w":59.9603,"f":45.6},{"s":35,"w":59.9728,"f":45.6},{"s":35,"w":59.9853,"f":45.6},{"s":35,"w":59.9978,"f":45.6},{"s":35,"w":60.0103,"f":45.6},{"s":35,"w":60.0228,"f":45.6},{"s":35,"w":60.0353,"f":45.6},{"s":35,"w":60.0478,"f":45.6},{"s":35,"w":60.0603,"f":45.6},{"s":35,"w":60.0728,"f":45.6},{"s":35,"w":60.0853,"f":45.6},{"s":35,"w":60.0978,"f":45.6},{"s":35,"w":60.1103,"f":45.6},{"s":35,"w":60.1228,"f":45.6},{"s":35,"w":60.1353,"f":45.6},{"s":35,"w":60.1478,"f":45.6},{"s":35,"w":60.1603,"f":45.6},{"s":35,"w":60.1728,"f":45.6},{"s":35,"w":60.1853,"f":45.6},{"s":35,"w":60.1978,"f":45.6},
{"s":36,"w":59.954,"f":46.6},{"s":36,"w":59.9665,"f":46.6},{"s":36,"w":59.979,"f":46.6},{"s":36,"w":59.9915,"f":46.6},{"s":36,"w":60.004,"f":46.6},{"s":36,"w":60.0165,"f":46.6},{"s":36,"w":60.029,"f":46.6},{"s":36,"w":60.0415,"f":46.6},{"s":36,"w":60.054,"f":46.6},{"s":36,"w":60.0665,"f":46.6},{"s":36,"w":60.079,"f":46.6},{"s":36,"w":60.0915,"f":46.6},{"s":36,"w":60.104,"f":46.6},{"s":36,"w":60.1165,"f":46.6},{"s":36,"w":60.129,"f":46.6},{"s":36,"w":60.1415,"f":46.6},{"s":36,"w":60.154,"f":46.6},{"s":36,"w":60.1665,"f":46.6},{"s":36,"w":60.179,"f":46.6},{"s":36,"w":60.1915,"f":46.6},{"s":36,"w":60.204,"f":46.6},
{"s":37,"w":59.9603,"f":47.6},{"s":37,"w":59.9728,"f":47.6},{"s":37,"w":59.9853,"f":47.6},{"s":37,"w":59.9978,"f":47.6},{"s":37,"w":60.0103,"f":47.6},{"s":37,"w":60.0228,"f":47.6},{"s":37,"w":60.0353,"f":47.6},{"s":37,"w":60.0478,"f":47.6},{"s":37,"w":60.0603,"f":47.6},{"s":37,"w":60.0728,"f":47.6},{"s":37,"w":60.0853,"f":47.6},{"s":37,"w":60.0978,"f":47.6},{"s":37,"w":60.1103,"f":47.6},{"s":37,"w":60.1228,"f":47.6},{"s":37,"w":60.1353,"f":47.6},{"s":37,"w":60.1478,"f":47.6},{"s":37,"w":60.1603,"f":47.6},{"s":37,"w":60.1728,"f":47.6},{"s":37,"w":60.1853,"f":47.6},{"s":37,"w":60.1978,"f":47.6},{"s":37,"w":60.2103,"f":47.6},
{"s":38,"w":59.9665,"f":48.6},{"s":38,"w":59.979,"f":48.6},{"s":38,"w":59.9915,"f":48.6},{"s":38,"w":60.004,"f":48.6},{"s":38,"w":60.0165,"f":48.6},{"s":38,"w":60.029,"f":48.6},{"s":38,"w":60.0415,"f":48.6},{"s":38,"w":60.054,"f":48.6},{"s":38,"w":60.0665,"f":48.6},{"s":38,"w":60.079,"f":48.6},{"s":38,"w":60.0915,"f":48.6},{"s":38,"w":60.104,"f":48.6},{"s":38,"w":60.1165,"f":48.6},{"s":38,"w":60.129,"f":48.6},{"s":38,"w":60.1415,"f":48.6},{"s":38,"w":60.154,"f":48.6},{"s":38,"w":60.1665,"f":48.6},{"s":38,"w":60.179,"f":48.6},{"s":38,"w":60.1915,"f":48.6},{"s":38,"w":60.204,"f":48.6},{"s":38,"w":60.2165,"f":48.6},
{"s":39,"w":59.9728,"f":49.6},{"s":39,"w":59.9853,"f":49.6},{"s":39,"w":59.9978,"f":49.6},{"s":39,"w":60.0103,"f":49.6},{"s":39,"w":60.0228,"f":49.6},{"s":39,"w":60.0353,"f":49.6},{"s":39,"w":60.0478,"f":49.6},{"s":39,"w":60.0603,"f":49.6},{"s":39,"w":60.0728,"f":49.6},{"s":39,"w":60.0853,"f":49.6},{"s":39,"w":60.0978,"f":49.6},{"s":39,"w":60.1103,"f":49.6},{"s":39,"w":60.1228,"f":49.6},{"s":39,"w":60.1353,"f":49.6},{"s":39,"w":60.1478,"f":49.6},{"s":39,"w":60.1603,"f":49.6},{"s":39,"w":60.1728,"f":49.6},{"s":39,"w":60.1853,"f":49.6},{"s":39,"w":60.1978,"f":49.6},{"s":39,"w":60.2103,"f":49.6},{"s":39,"w":60.2228,"f":49.6},
{"s":40,"w":59.979,"f":50.6},{"s":40,"w":59.9915,"f":50.6},{"s":40,"w":60.004,"f":50.6},{"s":40,"w":60.0165,"f":50.6},{"s":40,"w":60.029,"f":50.6},{"s":40,"w":60.0415,"f":50.6},{"s":40,"w":60.054,"f":50.6},{"s":40,"w":60.0665,"f":50.6},{"s":40,"w":60.079,"f":50.6},{"s":40,"w":60.0915,"f":50.6},{"s":40,"w":60.104,"f":50.6},{"s":40,"w":60.1165,"f":50.6},{"s":40,"w":60.129,"f":50.6},{"s":40,"w":60.1415,"f":50.6},{"s":40,"w":60.154,"f":50.6},{"s":40,"w":60.1665,"f":50.6},{"s":40,"w":60.179,"f":50.6},{"s":40,"w":60.1915,"f":50.6},{"s":40,"w":60.204,"f":50.6},{"s":40,"w":60.2165,"f":50.6},{"s":40,"w":60.229,"f":50.6},
{"s":41,"w":59.9853,"f":51.6},{"s":41,"w":59.9978,"f":51.6},{"s":41,"w":60.0103,"f":51.6},{"s":41,"w":60.0228,"f":51.6},{"s":41,"w":60.0353,"f":51.6},{"s":41,"w":60.0478,"f":51.6},{"s":41,"w":60.0603,"f":51.6},{"s":41,"w":60.0728,"f":51.6},{"s":41,"w":60.0853,"f":51.6},{"s":41,"w":60.0978,"f":51.6},{"s":41,"w":60.1103,"f":51.6},{"s":41,"w":60.1228,"f":51.6},{"s":41,"w":60.1353,"f":51.6},{"s":41,"w":60.1478,"f":51.6},{"s":41,"w":60.1603,"f":51.6},{"s":41,"w":60.1728,"f":51.6},{"s":41,"w":60.1853,"f":51.6},{"s":41,"w":60.1978,"f":51.6},{"s":41,"w":60.2103,"f":51.6},{"s":41,"w":60.2228,"f":51.6},{"s":41,"w":60.2353,"f":51.6},
{"s":42,"w":59.9915,"f":52.6},{"s":42,"w":60.004,"f":52.6},{"s":42,"w":60.0165,"f":52.6},{"s":42,"w":60.029,"f":52.6},{"s":42,"w":60.0415,"f":52.6},{"s":42,"w":60.054,"f":52.6},{"s":42,"w":60.0665,"f":52.6},{"s":42,"w":60.079,"f":52.6},{"s":42,"w":60.0915,"f":52.6},{"s":42,"w":60.104,"f":52.6},{"s":42,"w":60.1165,"f":52.6},{"s":42,"w":60.129,"f":52.6},{"s":42,"w":60.1415,"f":52.6},{"s":42,"w":60.154,"f":52.6},{"s":42,"w":60.1665,"f":52.6},{"s":42,"w":60.179,"f":52.6},{"s":42,"w":60.1915,"f":52.6},{"s":42,"w":60.204,"f":52.6},{"s":42,"w":60.2165,"f":52.6},{"s":42,"w":60.229,"f":52.6},{"s":42,"w":60.2415,"f":52.6},
{"s":43,"w":59.9978,"f":53.6},{"s":43,"w":60.0103,"f":53.6},{"s":43,"w":60.0228,"f":53.6},{"s":43,"w":60.0353,"f":53.6},{"s":43,"w":60.0478,"f":53.6},{"s":43,"w":60.0603,"f":53.6},{"s":43,"w":60.0728,"f":53.6},{"s":43,"w":60.0853,"f":53.6},{"s":43,"w":60.0978,"f":53.6},{"s":43,"w":60.1103,"f":53.6},{"s":43,"w":60.1228,"f":53.6},{"s":43,"w":60.1353,"f":53.6},{"s":43,"w":60.1478,"f":53.6},{"s":43,"w":60.1603,"f":53.6},{"s":43,"w":60.1728,"f":53.6},{"s":43,"w":60.1853,"f":53.6},{"s":43,"w":60.1978,"f":53.6},{"s":43,"w":60.2103,"f":53.6},{"s":43,"w":60.2228,"f":53.6},{"s":43,"w":60.2353,"f":53.6},{"s":43,"w":60.2478,"f":53.6},
{"s":44,"w":60.004,"f":54.6},{"s":44,"w":60.0165,"f":54.6},{"s":44,"w":60.029,"f":54.6},{"s":44,"w":60.0415,"f":54.6},{"s":44,"w":60.054,"f":54.6},{"s":44,"w":60.0665,"f":54.6},{"s":44,"w":60.079,"f":54.6},{"s":44,"w":60.0915,"f":54.6},{"s":44,"w":60.104,"f":54.6},{"s":44,"w":60.1165,"f":54.6},{"s":44,"w":60.129,"f":54.6},{"s":44,"w":60.1415,"f":54.6},{"s":44,"w":60.154,"f":54.6},{"s":44,"w":60.1665,"f":54.6},{"s":44,"w":60.179,"f":54.6},{"s":44,"w":60.1915,"f":54.6},{"s":44,"w":60.204,"f":54.6},{"s":44,"w":60.2165,"f":54.6},{"s":44,"w":60.229,"f":54.6},{"s":44,"w":60.2415,"f":54.6},{"s":44,"w":60.254,"f":54.6},
{"s":45,"w":60.0103,"f":55.6},{"s":45,"w":60.0228,"f":55.6},{"s":45,"w":60.0353,"f":55.6},{"s":45,"w":60.0478,"f":55.6},{"s":45,"w":60.0603,"f":55.6},{"s":45,"w":60.0728,"f":55.6},{"s":45,"w":60.0853,"f":55.6},{"s":45,"w":60.0978,"f":55.6},{"s":45,"w":60.1103,"f":55.6},{"s":45,"w":60.1228,"f":55.6},{"s":45,"w":60.1353,"f":55.6},{"s":45,"w":60.1478,"f":55.6},{"s":45,"w":60.1603,"f":55.6},{"s":45,"w":60.1728,"f":55.6},{"s":45,"w":60.1853,"f":55.6},{"s":45,"w":60.1978,"f":55.6},{"s":45,"w":60.2103,"f":55.6},{"s":45,"w":60.2228,"f":55.6},{"s":45,"w":60.2353,"f":55.6},{"s":45,"w":60.2478,"f":55.6},{"s":45,"w":60.2603,"f":55.6},
{"s":46,"w":60.0165,"f":56.6},{"s":46,"w":60.029,"f":56.6},{"s":46,"w":60.0415,"f":56.6},{"s":46,"w":60.054,"f":56.6},{"s":46,"w":60.0665,"f":56.6},{"s":46,"w":60.079,"f":56.6},{"s":46,"w":60.0915,"f":56.6},{"s":46,"w":60.104,"f":56.6},{"s":46,"w":60.1165,"f":56.6},{"s":46,"w":60.129,"f":56.6},{"s":46,"w":60.1415,"f":56.6},{"s":46,"w":60.154,"f":56.6},{"s":46,"w":60.1665,"f":56.6},{"s":46,"w":60.179,"f":56.6},{"s":46,"w":60.1915,"f":56.6},{"s":46,"w":60.204,"f":56.6},{"s":46,"w":60.2165,"f":56.6},{"s":46,"w":60.229,"f":56.6},{"s":46,"w":60.2415,"f":56.6},{"s":46,"w":60.254,"f":56.6},{"s":46,"w":60.2665,"f":56.6},
{"s":47,"w":60.0228,"f":57.6},{"s":47,"w":60.0353,"f":57.6},{"s":47,"w":60.0478,"f":57.6},{"s":47,"w":60.0603,"f":57.6},{"s":47,"w":60.0728,"f":57.6},{"s":47,"w":60.0853,"f":57.6},{"s":47,"w":60.0978,"f":57.6},{"s":47,"w":60.1103,"f":57.6},{"s":47,"w":60.1228,"f":57.6},{"s":47,"w":60.1353,"f":57.6},{"s":47,"w":60.1478,"f":57.6},{"s":47,"w":60.1603,"f":57.6},{"s":47,"w":60.1728,"f":57.6},{"s":47,"w":60.1853,"f":57.6},{"s":47,"w":60.1978,"f":57.6},{"s":47,"w":60.2103,"f":57.6},{"s":47,"w":60.2228,"f":57.6},{"s":47,"w":60.2353,"f":57.6},{"s":47,"w":60.2478,"f":57.6},{"s":47,"w":60.2603,"f":57.6},{"s":47,"w":60.2728,"f":57.6}
]},
"layer":[
{"data":{"name":"line"},
 "mark":{"type":"line","strokeWidth":2.2},
 "encoding":{
  "x":{"field":"w","type":"quantitative","scale":{"domain":[59.7043,60.2988],"nice":false,"zero":false},
   "axis":{"title":"Wavelength (microns)","values":[59.76,59.82,59.88,59.94,60.0,60.06,60.12,60.18,60.24],"tickCount":30,"format":".2f","labelFont":"DejaVu Sans","labelFontStyle":"italic","labelFontSize":8.5,"labelColor":"#444","labelPadding":4,"labelFlush":false,"labelOverlap":false,"labelSeparation":0,"tickSize":9,"tickDash":[0,3,6,20],"tickColor":"#444","domainColor":"#666","titleFont":"DejaVu Sans","titleFontSize":13,"titleFontWeight":"normal","titleColor":"#222","titlePadding":4}},
  "y":{"field":"f","type":"quantitative","scale":{"domain":[-4.5,104.5],"nice":false,"zero":false},
   "axis":{"title":"Flux (Arbitrary units)","values":[0,10,20,30,40,50,60,70,80,90,100],"tickCount":30,"labelAngle":270,"labelAlign":"center","labelBaseline":"bottom","labelFont":"DejaVu Sans","labelFontStyle":"italic","labelFontSize":8.5,"labelColor":"#444","labelPadding":8,"labelFlush":false,"labelOverlap":false,"labelSeparation":0,"tickSize":4,"tickColor":"#444","domainColor":"#666","titleFont":"DejaVu Sans","titleFontSize":13,"titleFontWeight":"normal","titleColor":"#222","titlePadding":4}},
  "color":{"field":"s","type":"nominal",
   "scale":{"domain":[-1,0,1,2,3,4,5,6,7,8,9,10,11,12,13,14,15,16,17,18,19,20,21,22,23,24,25,26,27,28,29,30,31,32,33,34,35,36,37,38,39,40,41,42,43,44,45,46,47],
    "range":["#1a2ad8","#00D0D0","#00CD00","#E6D200","#FF2020","#FF00FF","#000000","#BEBEBE","#0000FF","#00D0D0","#00CD00","#E6D200","#FF2020","#FF00FF","#000000","#BEBEBE","#0000FF","#00D0D0","#00CD00","#E6D200","#FF2020","#FF00FF","#000000","#BEBEBE","#0000FF","#00D0D0","#00CD00","#E6D200","#FF2020","#FF00FF","#000000","#BEBEBE","#0000FF","#00D0D0","#00CD00","#E6D200","#FF2020","#FF00FF","#000000","#BEBEBE","#0000FF","#00D0D0","#00CD00","#E6D200","#FF2020","#FF00FF","#000000","#BEBEBE","#0000FF"]},
   "legend":{"orient":"none","legendX":-27,"legendY":312,"direction":"horizontal","columns":4,"symbolLimit":0,"title":null,"padding":4,"strokeColor":"#999","fillColor":"white","labelFont":"Liberation Sans","labelFontSize":8,"labelColor":"#333","labelLimit":80,"labelExpr":"datum.value === -1 ? 'Line' : 'Position ' + datum.value","symbolSize":900,"symbolStrokeWidth":0,"clipHeight":8,"rowPadding":4.5,"columnPadding":3,"labelOffset":17,"symbolOffset":12,
    "encode":{"symbols":{"update":{"shape":{"signal":"datum.value === -1 ? 'stroke' : 'circle'"},"size":{"signal":"datum.value === -1 ? 676 : 8"},"x":{"signal":"datum.value === -1 ? 17 : 28"},"strokeWidth":{"signal":"datum.value === -1 ? 2.5 : 0"},"stroke":{"signal":"datum.value === -1 ? '#1a2ad8' : 'transparent'"},"fill":{"signal":"datum.value === -1 ? 'transparent' : scale('color', datum.value)"},"opacity":{"value":1}}}}}}
 }},
{"data":{"name":"pts"},
 "mark":{"type":"point","filled":true,"size":10,"opacity":1,"strokeWidth":0},
 "encoding":{
  "x":{"field":"w","type":"quantitative"},
  "y":{"field":"f","type":"quantitative"},
  "color":{"field":"s","type":"nominal"}
 }}
]
}
